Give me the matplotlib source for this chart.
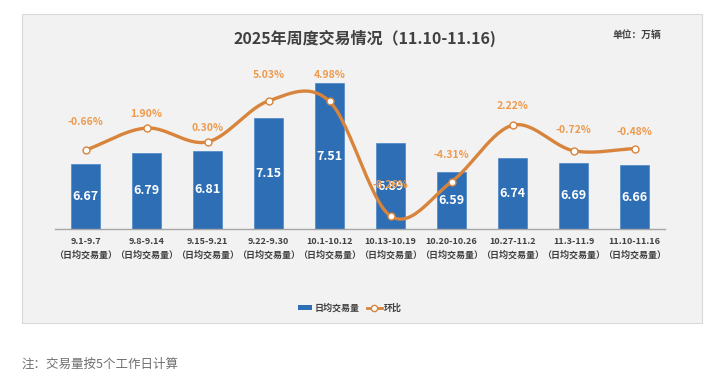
import numpy as np
import matplotlib
matplotlib.use("Agg")
import matplotlib.pyplot as plt
from matplotlib.patches import Rectangle
from matplotlib.lines import Line2D

plt.rcParams['font.family'] = ['Noto Sans CJK SC', 'DejaVu Sans']

weeks = ["9.1-9.7", "9.8-9.14", "9.15-9.21", "9.22-9.30", "10.1-10.12",
         "10.13-10.19", "10.20-10.26", "10.27-11.2", "11.3-11.9", "11.10-11.16"]
daily_volume = [6.67, 6.79, 6.81, 7.15, 7.51, 6.89, 6.59, 6.74, 6.69, 6.66]
wow_pct = [-0.66, 1.90, 0.30, 5.03, 4.98, -8.26, -4.31, 2.22, -0.72, -0.48]
tick_suffix = "（日均交易量）"

# label offsets (points) above line markers — layout only
pct_label_offsets = [20, 10, 10, 19, 19, 22, 19, 14, 15, 12]

BLUE = "#2E6EB5"
ORANGE = "#D8843C"
ORANGE_TXT = "#EE9A4D"
DARK = "#404040"

fig = plt.figure(figsize=(7.1, 3.79), dpi=100)
W, H = 710, 379

# gray panel
fig.patches.append(Rectangle((22 / W, 1 - 323 / H), 680 / W, 309 / H,
                             transform=fig.transFigure, facecolor="#F2F2F2",
                             edgecolor="#D9D9D9", linewidth=0.8, zorder=-5))

ax = fig.add_axes([55 / W, 1 - 229 / H, 610 / W, 159 / H])
ax.set_facecolor("none")
x = np.arange(len(weeks))
bars = ax.bar(x, daily_volume, width=0.46, color=BLUE, zorder=2, edgecolor="#4A86C8", linewidth=0.5)
ax.set_xlim(-0.5, len(weeks) - 0.5)
ax.set_ylim(6.0, 7.65)
for s in ["top", "right", "left"]:
    ax.spines[s].set_visible(False)
ax.spines["bottom"].set_color("#A6A6A6")
ax.spines["bottom"].set_linewidth(1.0)
ax.set_yticks([])
ax.set_xticks(x)
ax.set_xticklabels([f"{w}\n{tick_suffix}" for w in weeks], fontsize=6.5,
                   fontweight="bold", color=DARK, linespacing=1.6)
ax.tick_params(axis="x", length=0, pad=6)

for xi, v in zip(x, daily_volume):
    ax.text(xi, (6.0 + v) / 2, f"{v:.2f}", ha="center", va="center",
            color="white", fontsize=9, fontweight="bold", zorder=3)

ax2 = ax.twinx()
ax2.set_ylim(-9.77, 8.61)
ax2.axis("off")


def catmull(xs, ys, n=30):
    xs = np.asarray(xs, float); ys = np.asarray(ys, float)
    px = np.concatenate([[2 * xs[0] - xs[1]], xs, [2 * xs[-1] - xs[-2]]])
    py = np.concatenate([[2 * ys[0] - ys[1]], ys, [2 * ys[-1] - ys[-2]]])
    ox, oy = [], []
    for i in range(1, len(px) - 2):
        t = np.linspace(0, 1, n, endpoint=False)
        p0, p1, p2, p3 = px[i - 1], px[i], px[i + 1], px[i + 2]
        q0, q1, q2, q3 = py[i - 1], py[i], py[i + 1], py[i + 2]
        f = lambda a0, a1, a2, a3: 0.5 * ((2 * a1) + (-a0 + a2) * t +
                                           (2 * a0 - 5 * a1 + 4 * a2 - a3) * t ** 2 +
                                           (-a0 + 3 * a1 - 3 * a2 + a3) * t ** 3)
        ox.append(f(p0, p1, p2, p3)); oy.append(f(q0, q1, q2, q3))
    ox.append([xs[-1]]); oy.append([ys[-1]])
    return np.concatenate(ox), np.concatenate(oy)


sx, sy = catmull(x, wow_pct)
ax2.plot(sx, sy, color=ORANGE, linewidth=2.4, zorder=4, solid_capstyle="round")
ax2.plot(x, wow_pct, linestyle="none", marker="o", markersize=5,
         markerfacecolor="white", markeredgecolor=ORANGE, markeredgewidth=1.0, zorder=5)

for xi, p, off in zip(x, wow_pct, pct_label_offsets):
    ax2.annotate(f"{p:.2f}%", (xi, p), xytext=(0, off), textcoords="offset points",
                 ha="center", va="center", color=ORANGE_TXT, fontsize=7.5,
                 fontweight="bold", zorder=1)
for t in ax.texts:
    t.set_zorder(6)

fig.text(365 / W, 1 - 38 / H, "2025年周度交易情况（11.10-11.16)", ha="center",
         va="center", fontsize=11.5, fontweight="bold", color=DARK)
fig.text(637 / W, 1 - 35 / H, "单位：万辆", ha="center", va="center",
         fontsize=7, fontweight="bold", color=DARK)

handles = [Rectangle((0, 0), 1, 1, facecolor=BLUE),
           Line2D([0], [0], color=ORANGE, linewidth=2, marker="o", markersize=4.5,
                  markerfacecolor="white", markeredgecolor=ORANGE)]
leg = fig.legend(handles, ["日均交易量", "环比"], loc="center",
                 bbox_to_anchor=(350 / W, 1 - 308 / H), ncol=2, frameon=False,
                 fontsize=6.5, handlelength=1.6, handleheight=0.6, columnspacing=0.8,
                 handletextpad=0.3)
for t in leg.get_texts():
    t.set_color(DARK)
    t.set_fontweight("bold")

fig.text(22 / W, 1 - 364 / H, "注：交易量按5个工作日计算", ha="left", va="center",
         fontsize=9, color="#707070")

fig.savefig("out.png", dpi=100, facecolor="white")
